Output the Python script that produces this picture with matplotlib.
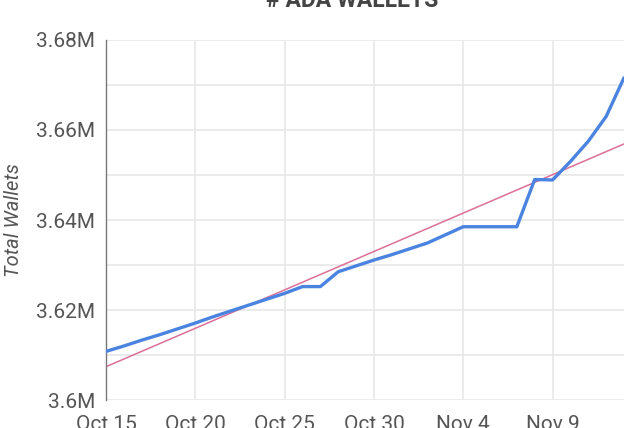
"""out.png -- # ADA WALLETS: daily total wallets with a linear trend line."""

import datetime as dt

import matplotlib
matplotlib.use("Agg")
import matplotlib.pyplot as plt
from matplotlib.ticker import FuncFormatter, MultipleLocator

plt.rcParams["font.family"] = ["Roboto", "DejaVu Sans"]

# daily totals, in millions (Oct 15 .. Nov 13)
start = dt.date(2021, 10, 15)
wallets = [
    3.6108, 3.6120, 3.6133, 3.6145, 3.6158,   # Oct 15-19
    3.6171, 3.6185, 3.6198, 3.6211, 3.6224,   # Oct 20-24
    3.6237, 3.6252, 3.6252, 3.6285, 3.6298,   # Oct 25-29
    3.6311, 3.6323, 3.6336, 3.6349, 3.6367,   # Oct 30 - Nov 3
    3.6385, 3.6385, 3.6385, 3.6385, 3.6490,   # Nov 4-8
    3.6489, 3.6530, 3.6575, 3.6630, 3.6716,   # Nov 9-13
]
dates = [start + dt.timedelta(days=i) for i in range(len(wallets))]

# trend line end points (as drawn)
trend_dates = [dates[0], dates[-1]]
trend_values = [3.6074, 3.6569]

tick_dates = [dt.date(2021, 10, 15), dt.date(2021, 10, 20), dt.date(2021, 10, 25),
              dt.date(2021, 10, 30), dt.date(2021, 11, 4), dt.date(2021, 11, 9)]
tick_labels = ["Oct 15", "Oct 20", "Oct 25", "Oct 30", "Nov 4", "Nov 9"]

fig = plt.figure(figsize=(6.4, 4.28), dpi=100)
ax = fig.add_axes([106 / 640, 1 - 400 / 428, (624 - 106) / 640, 360 / 428])

ax.plot(dates, wallets, color="#4a84e0", linewidth=2.4, solid_capstyle="round",
        solid_joinstyle="round", zorder=3)
ax.plot(trend_dates, trend_values, color="#dc6f98", linewidth=1.1, zorder=2)

ax.set_xlim(dates[0], dates[-1] + dt.timedelta(days=0.35))
ax.set_ylim(3.6, 3.68)

ax.set_xticks(tick_dates)
ax.set_xticklabels(tick_labels)
ax.yaxis.set_major_locator(MultipleLocator(0.02))
ax.yaxis.set_minor_locator(MultipleLocator(0.01))
ax.yaxis.set_major_formatter(FuncFormatter(lambda v, _: f"{v:g}M"))

ax.grid(which="major", color="#e8e8e8", linewidth=1.2, zorder=0)
ax.grid(which="minor", axis="y", color="#e8e8e8", linewidth=1.2, zorder=0)
ax.tick_params(axis="both", which="both", length=0, labelsize=15, colors="#555555")
ax.tick_params(axis="x", pad=11)
ax.tick_params(axis="y", pad=8)
for side in ("top", "right", "bottom"):
    ax.spines[side].set_visible(False)
ax.spines["left"].set_color("#777777")
ax.spines["left"].set_linewidth(1.0)

ax.set_ylabel("Total Wallets", fontsize=14.5, style="italic", color="#555555", labelpad=9)
fig.text(352 / 640, 1 - 7 / 428, "# ADA WALLETS", ha="center", va="baseline",
         fontsize=16.5, fontweight="bold", color="#444444")

fig.savefig("out.png", dpi=100)
